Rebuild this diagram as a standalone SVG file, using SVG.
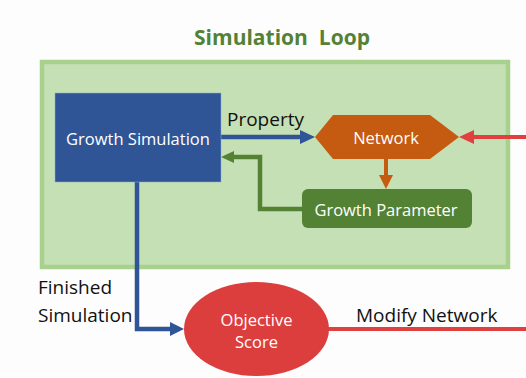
<svg xmlns="http://www.w3.org/2000/svg" width="526" height="378" viewBox="0 0 526 378">
<style>
  text { font-family: "Open Sans", "Liberation Sans", sans-serif; }
  .w { fill: #ffffff; font-size: 16.5px; text-anchor: middle; dominant-baseline: central; }
  .lbl { fill: #111111; font-size: 19px; }
  .blue { stroke: #2f5597; stroke-width: 4.5; fill: none; }
  .green { stroke: #548235; stroke-width: 4.5; fill: none; }
  .orange { stroke: #c55a11; stroke-width: 4; fill: none; }
  .red { stroke: #e04040; stroke-width: 4; fill: none; }
</style>
<rect width="526" height="378" fill="#fdfdfd"/>
<g id="loop">
  <rect x="42" y="62" width="466" height="205" fill="#c5e0b4" stroke="#a9d18e" stroke-width="4.5"/>
  <text x="282" y="45" text-anchor="middle" font-size="21" font-weight="bold" fill="#548235" xml:space="preserve">Simulation  Loop</text>
</g>
<g id="connectors">
  <line class="blue" x1="221" y1="137" x2="302" y2="137"/>
  <polygon points="315,137 300,130 300,144" fill="#2f5597"/>
  <line class="red" x1="526" y1="137" x2="472" y2="137"/>
  <polygon points="459,137 474,130 474,144" fill="#e04040"/>
  <line class="orange" x1="386" y1="159" x2="386" y2="176"/>
  <polygon points="386,189 379,175 393,175" fill="#c55a11"/>
  <polyline class="green" points="302,209 260,209 260,157 232,157"/>
  <polygon points="221,157 234,151 234,163" fill="#548235"/>
  <polyline class="blue" points="137,182 137,329 172,329"/>
  <polygon points="184,329 170,322 170,336" fill="#2f5597"/>
  <line class="red" x1="326" y1="329" x2="526" y2="329"/>
  <text class="lbl" x="227" y="126">Property</text>
  <text class="lbl" x="38" y="294">Finished</text>
  <text class="lbl" x="38" y="322">Simulation</text>
  <text class="lbl" x="356" y="322">Modify Network</text>
</g>
<g id="growth-simulation">
  <rect x="55" y="93" width="166" height="89" fill="#2f5597" stroke="#8faadc" stroke-width="0.5"/>
  <text class="w" x="138" y="138">Growth Simulation</text>
</g>
<g id="network">
  <polygon points="315,137 333,115 430,115 459,137 430,159 333,159" fill="#c55a11"/>
  <text class="w" x="386" y="137">Network</text>
</g>
<g id="growth-parameter">
  <rect x="302" y="189" width="170" height="39" rx="6" fill="#548235"/>
  <text class="w" x="386" y="209">Growth Parameter</text>
</g>
<g id="objective-score">
  <ellipse cx="256.5" cy="329" rx="72.5" ry="47" fill="#dc3e3e"/>
  <text class="w" x="256.5" y="319">Objective</text>
  <text class="w" x="256.5" y="341">Score</text>
</g>
</svg>
